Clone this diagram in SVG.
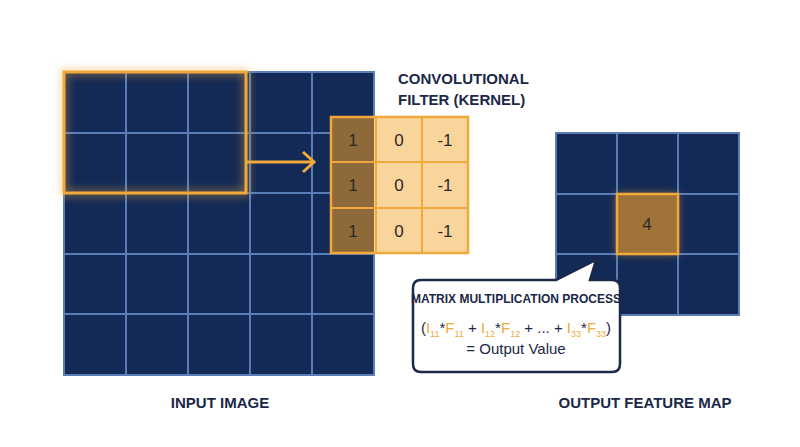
<svg xmlns="http://www.w3.org/2000/svg" width="800" height="447" viewBox="0 0 800 447">
<style>
.cell{fill:#142a56;stroke:#5a7db5;stroke-width:2}
.t{font-family:"Liberation Sans",Arial,sans-serif;fill:#1b2847}
.k{font-family:"Liberation Sans",Arial,sans-serif;font-size:17px;fill:#2a2a2a;text-anchor:middle}
.o{fill:#f2a93b}
</style>
<defs>
<filter id="glow" x="-20%" y="-20%" width="140%" height="140%"><feGaussianBlur stdDeviation="4"/></filter>
</defs>
<rect width="800" height="447" fill="#fff"/>
<g id="input">
<rect x="64" y="72" width="310" height="303" fill="#142a56"/>
<path d="M126 72V375M188 72V375M250 72V375M312 72V375M64 133H374M64 193H374M64 254H374M64 314H374" stroke="#5a7db5" stroke-width="2"/>
<rect x="64" y="72" width="310" height="303" fill="none" stroke="#5a7db5" stroke-width="2"/>
<rect x="64" y="72" width="182" height="121" fill="none" stroke="#f2a93b" stroke-width="6" opacity="0.5" filter="url(#glow)"/>
<rect x="64" y="72" width="182" height="121" fill="none" stroke="#f2a93b" stroke-width="3"/>
<text class="t" x="220" y="408" font-size="15" font-weight="bold" text-anchor="middle">INPUT IMAGE</text>
</g>
<g id="connectors">
<path d="M246 162H312" stroke="#f2a93b" stroke-width="3" fill="none"/>
<path d="M303 152L314 162L303 172" stroke="#f2a93b" stroke-width="3" fill="none"/>
</g>
<g id="kernel">
<text class="t" x="398" y="84" font-size="15" font-weight="bold">CONVOLUTIONAL</text>
<text class="t" x="398" y="105" font-size="15" font-weight="bold">FILTER (KERNEL)</text>
<rect x="331" y="117" width="137" height="136" fill="#f9d59c"/>
<rect x="331" y="117" width="43" height="136" fill="#8e6a3a"/>
<path d="M376 117V253M422 117V253M331 162H468M331 208H468" stroke="#f2a93b" stroke-width="2"/>
<rect x="331" y="117" width="137" height="136" fill="none" stroke="#f2a93b" stroke-width="2.5"/>
<text class="k" x="353" y="146">1</text><text class="k" x="399" y="146">0</text><text class="k" x="445" y="146">-1</text>
<text class="k" x="353" y="191">1</text><text class="k" x="399" y="191">0</text><text class="k" x="445" y="191">-1</text>
<text class="k" x="353" y="237">1</text><text class="k" x="399" y="237">0</text><text class="k" x="445" y="237">-1</text>
</g>
<g id="output">
<rect x="556" y="133" width="183" height="182" fill="#142a56"/>
<path d="M617 133V315M678 133V315M556 194H739M556 254H739" stroke="#5a7db5" stroke-width="2"/>
<rect x="556" y="133" width="183" height="182" fill="none" stroke="#5a7db5" stroke-width="2"/>
<rect x="617" y="194" width="61" height="60" fill="#f2a93b" opacity="0.6" filter="url(#glow)"/>
<rect x="617" y="194" width="61" height="60" fill="#a07338" stroke="#f2a93b" stroke-width="2.5"/>
<text class="k" x="647" y="230" fill="#222">4</text>
<text class="t" x="645" y="408" font-size="15" font-weight="bold" text-anchor="middle">OUTPUT FEATURE MAP</text>
</g>
<g id="callout">
<path d="M421 280H556L596 260L590 280H612Q620 280 620 288V364Q620 372 612 372H421Q413 372 413 364V288Q413 280 421 280Z" fill="#fff" stroke="#1b2847" stroke-width="2.5"/>
<text class="t" x="516" y="303" font-size="12" font-weight="bold" text-anchor="middle">MATRIX MULTIPLICATION PROCESS</text>
<text class="t" x="516" y="333" font-size="15" text-anchor="middle">(<tspan class="o">I</tspan><tspan class="o" font-size="9" dy="4">11</tspan><tspan dy="-4">*</tspan><tspan class="o">F</tspan><tspan class="o" font-size="9" dy="4">11</tspan><tspan dy="-4"> + </tspan><tspan class="o">I</tspan><tspan class="o" font-size="9" dy="4">12</tspan><tspan dy="-4">*</tspan><tspan class="o">F</tspan><tspan class="o" font-size="9" dy="4">12</tspan><tspan dy="-4"> + ... + </tspan><tspan class="o">I</tspan><tspan class="o" font-size="9" dy="4">33</tspan><tspan dy="-4">*</tspan><tspan class="o">F</tspan><tspan class="o" font-size="9" dy="4">33</tspan><tspan dy="-4">)</tspan></text>
<text class="t" x="516" y="354" font-size="15" text-anchor="middle">= Output Value</text>
</g>
</svg>
